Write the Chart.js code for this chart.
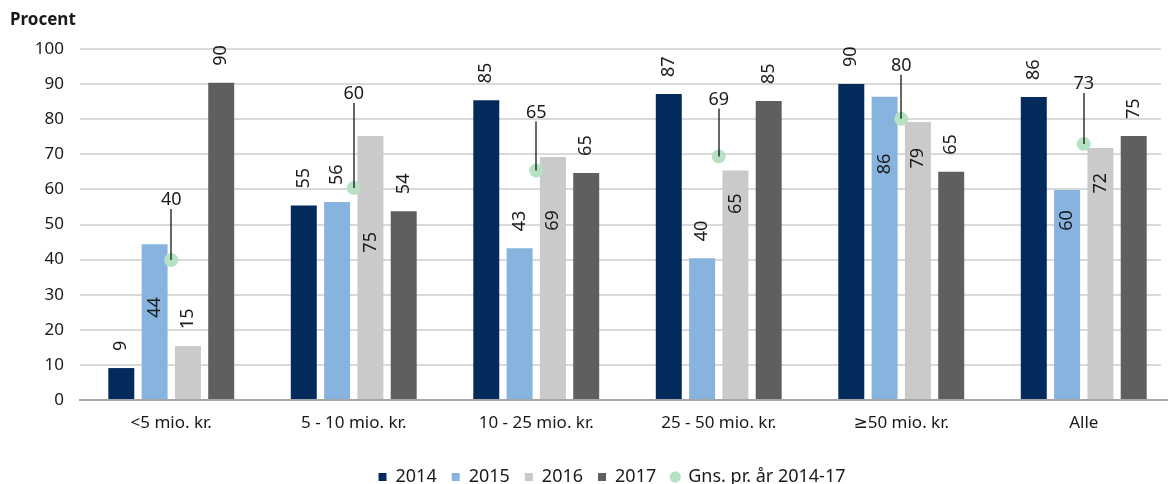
<!DOCTYPE html>
<html><head><meta charset="utf-8">
<script src="https://cdn.jsdelivr.net/npm/chart.js@4/dist/chart.umd.min.js"></script>
<style>html,body{margin:0;padding:0;background:#fff;overflow:hidden}</style>
</head><body>
<div style="width:1168px;height:484px;position:relative;overflow:hidden"><canvas id="c" width="1168" height="484"></canvas></div>
<script>
const categories = ['<5 mio. kr.', '5 - 10 mio. kr.', '10 - 25 mio. kr.', '25 - 50 mio. kr.', '≥50 mio. kr.', 'Alle'];
const values2014 = [9.1, 55.4, 85.4, 87.2, 90.0, 86.3];
const values2015 = [44.4, 56.4, 43.2, 40.4, 86.4, 59.8];
const values2016 = [15.4, 75.2, 69.2, 65.4, 79.2, 71.8];
const values2017 = [90.4, 53.8, 64.7, 85.2, 65.0, 75.2];
const averages = [39.9, 60.4, 65.4, 69.4, 80.1, 72.9];
const seriesNames = ['2014', '2015', '2016', '2017', 'Gns. pr. år 2014-17'];
const yTickValues = [0, 10, 20, 30, 40, 50, 60, 70, 80, 90, 100];

// label placement (style): px from bar top to label top when placed inside; null = outside end
const insideOffset = {1: [53, null, null, null, 57, 20], 2: [null, 96, 53, 23, 26, 25]};
const avgLabelLift = [60, 94, 58, 57, 53, 60];
// the original plot area runs past the right edge of the picture
const PLOT_RIGHT = 1175;

const FONT = '"Noto Sans", "DejaVu Sans", sans-serif';
const TXT = '#1a1a1a';

const labelsPlugin = {
  id: 'valueLabels',
  afterDatasetsDraw(chart) {
    const ctx = chart.ctx;
    ctx.save();
    ctx.font = '18px ' + FONT;
    ctx.fillStyle = TXT;
    chart.data.datasets.forEach((ds, di) => {
      const meta = chart.getDatasetMeta(di);
      if (ds.type === 'line') {
        meta.data.forEach((pt, i) => {
          const text = String(Math.round(ds.data[i]));
          const cy = pt.y - avgLabelLift[i];
          ctx.strokeStyle = '#000';
          ctx.lineWidth = 1.2;
          ctx.beginPath();
          ctx.moveTo(Math.round(pt.x), cy + 9);
          ctx.lineTo(Math.round(pt.x), pt.y);
          ctx.stroke();
          ctx.textAlign = 'center';
          ctx.textBaseline = 'middle';
          ctx.fillText(text, pt.x, cy);
        });
      } else {
        meta.data.forEach((bar, i) => {
          const text = String(Math.round(ds.data[i]));
          const off = insideOffset[di] ? insideOffset[di][i] : null;
          ctx.save();
          if (off == null) {
            ctx.translate(bar.x, bar.y - 17);
            ctx.rotate(-Math.PI / 2);
            ctx.textAlign = 'left';
          } else {
            ctx.translate(bar.x, bar.y + off);
            ctx.rotate(-Math.PI / 2);
            ctx.textAlign = 'right';
          }
          ctx.textBaseline = 'middle';
          ctx.fillText(text, 0, 0);
          ctx.restore();
        });
      }
    });
    ctx.restore();
  }
};

const unitPlugin = {
  id: 'unitTitle',
  afterDraw(chart) {
    const ctx = chart.ctx;
    ctx.save();
    ctx.font = 'bold 17px ' + FONT;
    ctx.fillStyle = TXT;
    ctx.textAlign = 'left';
    ctx.textBaseline = 'alphabetic';
    ctx.fillText('Procent', 10, 25);
    ctx.restore();
  }
};

const layoutTweak = {
  id: 'layoutTweak',
  afterLayout(chart) {
    const l = chart.legend;
    const h = l.bottom - l.top;
    const top = 453;
    l.top = top; l.bottom = top + h;
    const dx = 612 - (l.left + l.right) / 2;
    l.left += dx; l.right += dx;
    const x = chart.scales.x;
    x.right = PLOT_RIGHT;
    x.width = x.right - x.left;
    x.configure();
  }
};

const colors = ['#022b5c', '#86b4de', '#cacaca', '#5f5f5f'];
const barData = [values2014, values2015, values2016, values2017];
const datasets = barData.map((d, i) => ({
  label: seriesNames[i], data: d, backgroundColor: colors[i], borderWidth: 0, order: 1
}));
datasets.push({
  type: 'line', label: seriesNames[4], data: averages, showLine: false,
  pointRadius: 7, pointHoverRadius: 7, pointBorderWidth: 0,
  pointBackgroundColor: '#b6e2c3', backgroundColor: '#b6e2c3', borderColor: '#b6e2c3',
  pointStyle: 'circle', order: 0, clip: false
});

new Chart(document.getElementById('c'), {
  type: 'bar',
  data: { labels: categories, datasets },
  options: {
    responsive: false, animation: false,
    layout: { padding: { top: 49, left: 0, right: 0, bottom: 0 } },
    datasets: { bar: { categoryPercentage: 0.73, barPercentage: 0.78 } },
    plugins: {
      tooltip: { enabled: false },
      legend: {
        position: 'bottom',
        labels: {
          usePointStyle: true, boxWidth: 8, boxHeight: 8, padding: 15, color: TXT,
          font: { family: FONT, size: 18 },
          sort: (a, b) => a.datasetIndex - b.datasetIndex,
          generateLabels(chart) {
            const items = Chart.defaults.plugins.legend.labels.generateLabels(chart);
            items.forEach(it => {
              it.pointStyle = it.datasetIndex < 4 ? 'rect' : 'circle';
              it.lineWidth = 0;
            });
            return items;
          }
        }
      }
    },
    scales: {
      x: {
        grid: { display: false },
        border: { color: '#a6a6a6', width: 2 },
        ticks: { color: TXT, font: { family: FONT, size: 17 }, padding: 5, maxRotation: 0 },
        afterFit(s) { s.height = 84 - s.chart.legend.height; }
      },
      y: {
        min: 0, max: 100,
        afterBuildTicks(s) { s.ticks = yTickValues.map(v => ({ value: v })); },
        grid: { color: '#d9d9d9', lineWidth: 2, drawTicks: false },
        border: { display: false },
        ticks: { color: TXT, font: { family: FONT, size: 17 }, padding: 16 },
        afterFit(s) { s.width = 80; }
      }
    }
  },
  plugins: [labelsPlugin, unitPlugin, layoutTweak]
});
</script>
</body></html>
